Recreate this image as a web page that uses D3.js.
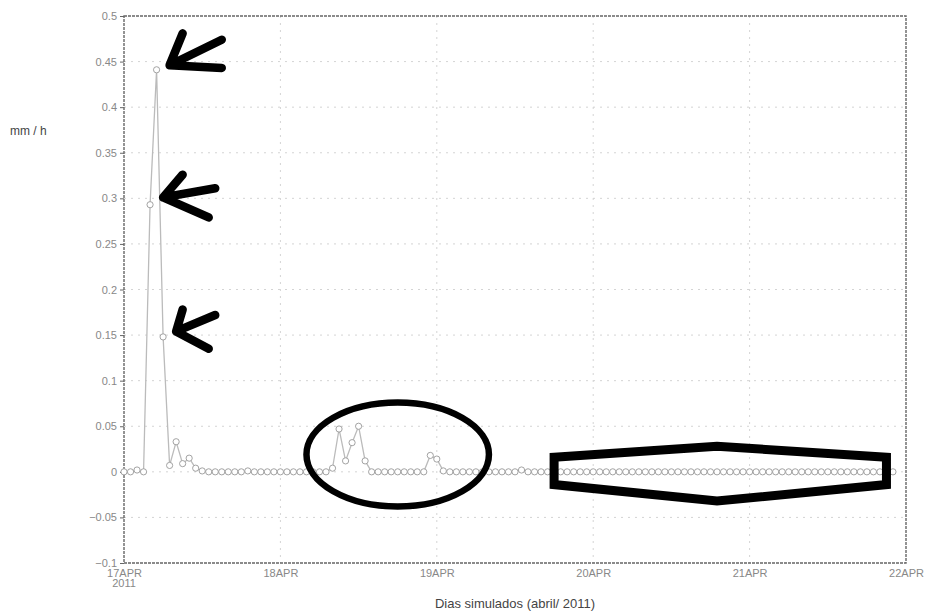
<!DOCTYPE html>
<html><head><meta charset="utf-8">
<script src="https://cdn.jsdelivr.net/npm/d3@7"></script>
<style>
html,body{margin:0;padding:0;background:#fff;}
svg{display:block;font-family:"Liberation Sans",Arial,sans-serif;}
</style></head>
<body><svg id="c" width="929" height="613"></svg>
<script>
// hourly precipitation rate (mm/h) from 17APR 00Z to 22APR 00Z
const startTime = "2011-04-17T00:00:00Z";
const values = [
  0, 0, 0.002, 0, 0.293, 0.441, 0.148, 0.007, 0.033, 0.009, 0.015, 0.004, 0.001,
  0, 0, 0, 0, 0, 0, 0.001, 0, 0, 0, 0, 0,
  0, 0, 0, 0, 0, 0, 0, 0.004, 0.047, 0.012, 0.032, 0.05, 0.012,
  0, 0, 0, 0, 0, 0, 0, 0, 0, 0.018, 0.014, 0.001,
  0, 0, 0, 0, 0, 0, 0, 0, 0, 0, 0, 0.002,
  0, 0, 0, 0, 0, 0, 0, 0, 0, 0, 0, 0,
  0, 0, 0, 0, 0, 0, 0, 0, 0, 0, 0, 0,
  0, 0, 0, 0, 0, 0, 0, 0, 0, 0, 0, 0,
  0, 0, 0, 0, 0, 0, 0, 0, 0, 0, 0, 0,
  0, 0, 0, 0, 0, 0, 0, 0, 0
];
const yTicks = [-0.1, -0.05, 0, 0.05, 0.1, 0.15, 0.2, 0.25, 0.3, 0.35, 0.4, 0.45, 0.5];
const xTickLabels = ["17APR", "18APR", "19APR", "20APR", "21APR", "22APR"];
const yLabel = "mm / h";
const xTitle = "Dias simulados (abril/ 2011)";
const yearLabel = "2011";

const W = 929, H = 613;
const m = {l:124, r:23, t:16, b:50};
const svg = d3.select("#c");
const t0 = new Date(startTime);
const data = values.map((v,i)=>({t:d3.utcHour.offset(t0,i), v}));
const xTickDates = xTickLabels.map((_,i)=>d3.utcDay.offset(t0,i));

const x = d3.scaleUtc().domain([t0, d3.utcDay.offset(t0,5)]).range([m.l, W-m.r]);
const y = d3.scaleLinear().domain([-0.1,0.5]).range([H-m.b, m.t]);

// grid
const g = svg.append("g");
g.selectAll(".hg").data(yTicks.filter(d=>d>-0.1 && d<0.5)).join("line")
  .attr("x1",m.l).attr("x2",W-m.r).attr("y1",d=>y(d)).attr("y2",d=>y(d))
  .attr("stroke","#d4d4d4").attr("stroke-dasharray","2,5").attr("stroke-width",1);
g.selectAll(".vg").data(xTickDates.slice(1,-1)).join("line")
  .attr("x1",d=>x(d)).attr("x2",d=>x(d)).attr("y1",m.t).attr("y2",H-m.b)
  .attr("stroke","#d4d4d4").attr("stroke-dasharray","2,5").attr("stroke-width",1);

// frame
svg.append("rect").attr("x",m.l).attr("y",m.t).attr("width",W-m.r-m.l).attr("height",H-m.b-m.t)
  .attr("fill","none").attr("stroke","#666").attr("stroke-width",1.4).attr("stroke-dasharray","3,1");

// y axis
const ya = svg.append("g").attr("transform",`translate(${m.l},0)`)
  .call(d3.axisLeft(y).tickValues(yTicks).tickSize(4).tickPadding(3)
    .tickFormat(d=>d===0?"0":String(d).replace("-","\u2212")));
ya.select(".domain").remove();
ya.selectAll("line").attr("stroke","#666");
ya.selectAll("text").attr("fill","#888").attr("font-size",11).attr("font-family","Liberation Sans, Arial, sans-serif");

// x axis
const xa = svg.append("g").attr("transform",`translate(0,${H-m.b})`)
  .call(d3.axisBottom(x).tickValues(xTickDates).tickSize(0).tickPadding(6)
    .tickFormat((d,i)=>xTickLabels[i]));
xa.select(".domain").remove();
xa.selectAll("text").attr("fill","#888").attr("font-size",11).attr("font-family","Liberation Sans, Arial, sans-serif");
svg.append("text").attr("x",x(t0)).attr("y",H-m.b+24).attr("text-anchor","middle")
  .attr("fill","#888").attr("font-size",11).text(yearLabel);

// labels
svg.append("text").attr("x",10).attr("y",135).attr("fill","#444").attr("font-size",12).text(yLabel);
svg.append("text").attr("x",(m.l+W-m.r)/2).attr("y",608).attr("text-anchor","middle")
  .attr("fill","#444").attr("font-size",13).text(xTitle);

// series
svg.append("path").datum(data)
  .attr("d",d3.line().x(d=>x(d.t)).y(d=>y(d.v)))
  .attr("fill","none").attr("stroke","#bbb").attr("stroke-width",1.3);
svg.selectAll(".pt").data(data).join("circle")
  .attr("cx",d=>x(d.t)).attr("cy",d=>y(d.v)).attr("r",3.1)
  .attr("fill","#fff").attr("stroke","#999").attr("stroke-width",0.9);

// hand-drawn annotations (positioned in data coordinates)
const hx = h => x(d3.utcHour.offset(t0,h));
const ann = svg.append("g").attr("fill","none").attr("stroke","#000")
  .attr("stroke-linecap","round").attr("stroke-linejoin","round");
const arrows = [
  {tip:[7.3,0.446], a:[9.6,0.481], b:[15.9,0.474], c:[15.9,0.443]},
  {tip:[6.9,0.301], a:[9.4,0.326], b:[14.6,0.311], c:[13.6,0.279]},
  {tip:[8.0,0.154], a:[9.6,0.178], b:[14.5,0.172], c:[13.8,0.135]}
];
arrows.forEach(a=>{
  const p = q=>[hx(q[0]), y(q[1])];
  const T = p(a.tip);
  ann.append("path").attr("stroke-width",8.5)
    .attr("d",`M${p(a.a)}L${T}L${p(a.b)}M${T}L${p(a.c)}`);
});
ann.append("ellipse").attr("cx",hx(42.7)).attr("cy",y(0.019)).attr("rx",hx(14.0)-hx(0)).attr("ry",y(0)-y(0.057))
  .attr("stroke-width",6.5);
const hexPts = [[66.1,0.016],[91.9,0.028],[117.6,0.016],[117.6,-0.014],[91.9,-0.032],[66.1,-0.014]];
ann.append("path").attr("stroke-width",9).attr("stroke-linejoin","miter")
  .attr("d","M"+hexPts.map(q=>[hx(q[0]),y(q[1])].join(",")).join("L")+"Z");
</script></body></html>
